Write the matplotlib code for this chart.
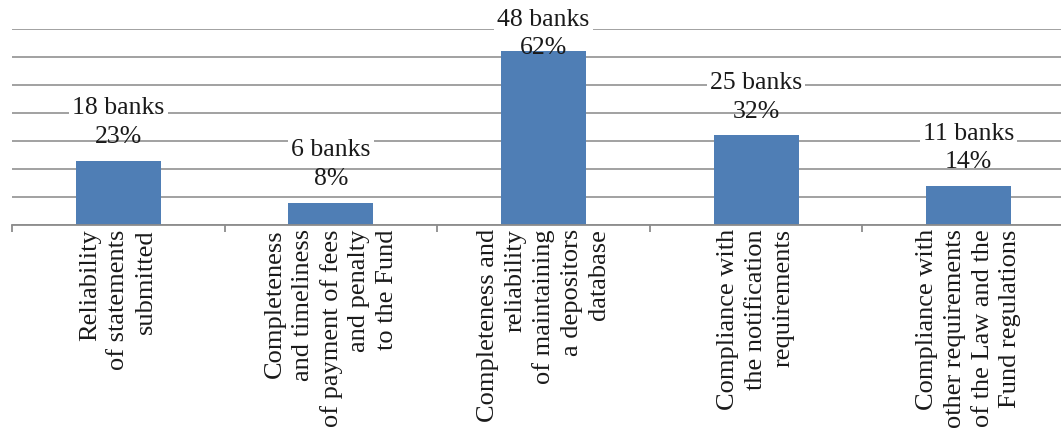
import matplotlib
matplotlib.use("Agg")
import matplotlib.pyplot as plt
from matplotlib.ticker import MultipleLocator, FixedLocator
import numpy as np

categories = [
    "Reliability\nof statements\nsubmitted",
    "Completeness\nand timeliness\nof payment of fees\nand penalty\nto the Fund",
    "Completeness and\nreliability\nof maintaining\na depositors\ndatabase",
    "Compliance with\nthe notification\nrequirements",
    "Compliance with\nother requirements\nof the Law and the\nFund regulations",
]
banks = [18, 6, 48, 25, 11]
percent = [23, 8, 62, 32, 14]

plt.rcParams['font.family'] = ['Liberation Serif', 'DejaVu Serif']

fig = plt.figure(figsize=(10.61, 4.37), dpi=100)
ax = fig.add_axes([12/1061, 1 - 225/437, (1075 - 12)/1061, (225 - 29)/437])

x = np.arange(len(categories))
ax.bar(x, percent, width=0.4, color='#4F7EB5', zorder=2)

ax.set_xlim(-0.5, len(categories) - 0.5)
ax.set_ylim(0, 70)
ax.yaxis.set_major_locator(MultipleLocator(10))
ax.yaxis.grid(True, color='#9a9a9a', linewidth=1.3, zorder=0)
ax.set_axisbelow(True)
ax.tick_params(axis='y', left=False, labelleft=False)
for s in ['top', 'right', 'left']:
    ax.spines[s].set_visible(False)
ax.spines['bottom'].set_color('#8c8c8c')
ax.spines['bottom'].set_linewidth(1.3)

ax.set_xticks(x)
ax.set_xticklabels(categories, rotation=90, ha='center', va='top',
                   multialignment='right', fontsize=19, linespacing=1.33,
                   color='#1a1a1a')
ax.tick_params(axis='x', which='major', length=0, pad=3)
ax.xaxis.set_minor_locator(FixedLocator(np.arange(-0.5, len(categories), 1.0)))
ax.tick_params(axis='x', which='minor', length=5, width=1.3, color='#8c8c8c',
               direction='out')

for xi, b, p in zip(x, banks, percent):
    ylab = min(p + 6.2, 60.9)
    ax.text(xi, ylab, f"{p}%", ha='center', va='baseline', fontsize=18.5,
            color='#1a1a1a', zorder=3, clip_on=False)
    ax.annotate(f"{b} banks", xy=(xi, ylab), xytext=(0, 20.8),
                textcoords='offset points', ha='center', va='baseline',
                fontsize=18.5, color='#1a1a1a', zorder=3,
                bbox=dict(boxstyle='square,pad=0.12', fc='white', ec='none'),
                annotation_clip=False)

fig.savefig("out.png", dpi=100)
